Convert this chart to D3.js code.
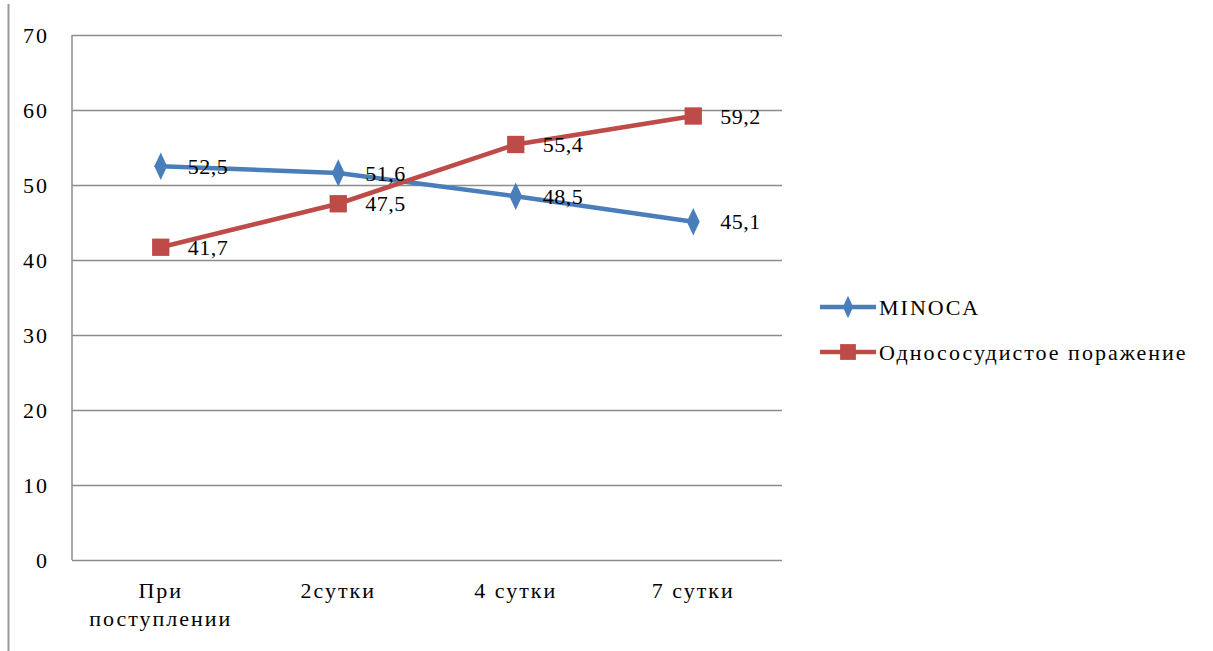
<!DOCTYPE html>
<meta charset="utf-8">
<script src="https://d3js.org/d3.v7.min.js"></script>
<style>
  body { margin: 0; background: #fff; }
  text { font-family: "Liberation Serif", "Times New Roman", serif; fill: #000; font-size: 22px; }
</style>
<div id="chart"></div>
<script>

// data
var categories = ["При поступлении", "2сутки", "4 сутки", "7 сутки"];
var minoca = [52.5, 51.6, 48.5, 45.1];
var single = [41.7, 47.5, 55.4, 59.2];
var seriesNames = ["MINOCA", "Однососудистое поражение"];
var yTicks = [0, 10, 20, 30, 40, 50, 60, 70];

var W = 1213, H = 651;
var margin = {top: 35, left: 72, right: 431, bottom: 91};
var width = W - margin.left - margin.right,
    height = H - margin.top - margin.bottom;

var svg = d3.select("#chart").append("svg")
    .attr("width", W)
    .attr("height", H);

// page border line at the left
svg.append("line")
  .attr("x1", 8.5).attr("x2", 8.5)
  .attr("y1", 4).attr("y2", H)
  .attr("stroke", "#999").attr("stroke-width", 2);

var g = svg.append("g")
    .attr("transform", "translate(" + margin.left + "," + margin.top + ")");

var x = d3.scaleBand().domain(categories).range([0, width]);
var y = d3.scaleLinear().domain([0, 70]).range([height, 0]);

// gridlines
g.append("g")
  .call(d3.axisLeft(y).tickValues(yTicks).tickSize(-width).tickFormat(""))
  .call(function(a) {
    a.select(".domain").remove();
    a.selectAll("line").attr("stroke", "#8c8c8c").attr("stroke-width", 1.5);
  });

// y axis line + labels
g.append("line")
  .attr("x1", 0).attr("x2", 0).attr("y1", 0).attr("y2", height)
  .attr("stroke", "#8c8c8c").attr("stroke-width", 1.5);

g.append("g")
  .call(d3.axisLeft(y).tickValues(yTicks).tickSize(0).tickPadding(23))
  .call(function(a) {
    a.select(".domain").remove();
    a.selectAll("text")
      .attr("font-family", null).attr("font-size", null)
      .style("letter-spacing", "2px");
  });

// x axis labels
var xl = g.append("g").attr("transform", "translate(0," + height + ")")
  .selectAll("text")
  .data(categories)
  .enter().append("text")
    .attr("x", function(d) { return x(d) + x.bandwidth() / 2; })
    .attr("y", 38)
    .style("letter-spacing", "2px")
    .style("text-anchor", "middle");
xl.each(function(d) {
  var t = d3.select(this);
  var parts = d === "При поступлении" ? ["При", "поступлении"] : [d];
  parts.forEach(function(p, i) {
    t.append("tspan").attr("x", t.attr("x")).attr("dy", i ? 28 : 0).text(p);
  });
});

var colors = ["#4a7ebb", "#be4b48"];
var datasets = [minoca, single];
var symbols = [d3.symbolDiamond, d3.symbolSquare];
var symSize = [200, 300];

var line = d3.line()
  .x(function(d, i) { return x(categories[i]) + x.bandwidth() / 2; })
  .y(function(d) { return y(d); });

datasets.forEach(function(data, s) {
  g.append("path")
    .datum(data)
    .attr("fill", "none")
    .attr("stroke", colors[s])
    .attr("stroke-width", 4.5)
    .attr("d", line);

  g.selectAll(null)
    .data(data)
    .enter().append("path")
      .attr("d", d3.symbol().type(symbols[s]).size(symSize[s]))
      .attr("fill", colors[s])
      .attr("transform", function(d, i) {
        var sc = s === 0 ? " scale(0.85,1.05)" : "";
        return "translate(" + (x(categories[i]) + x.bandwidth() / 2) + "," + y(d) + ")" + sc;
      });
});

// data labels
datasets.forEach(function(data, s) {
  g.selectAll(null)
    .data(data)
    .enter().append("text")
      .attr("x", function(d, i) { return x(categories[i]) + x.bandwidth() / 2 + 27; })
      .attr("y", function(d) { return y(d); })
      .attr("dy", "0.35em")
      .style("letter-spacing", "0.5px")
      .text(function(d) { return String(d).replace(".", ","); });
});

// legend
var legend = svg.append("g").attr("transform", "translate(820,307)");
seriesNames.forEach(function(name, s) {
  var row = legend.append("g").attr("transform", "translate(0," + (s * 45) + ")");
  row.append("line")
    .attr("x1", 0).attr("x2", 56).attr("y1", 0).attr("y2", 0)
    .attr("stroke", colors[s]).attr("stroke-width", 4.5);
  row.append("path")
    .attr("d", d3.symbol().type(symbols[s]).size(s === 0 ? 130 : 250))
    .attr("fill", colors[s])
    .attr("transform", "translate(28,0)" + (s === 0 ? " scale(0.85,1.05)" : ""));
  row.append("text")
    .attr("x", 59).attr("y", 0).attr("dy", "0.35em")
    .style("letter-spacing", "2px")
    .text(name);
});

</script>
